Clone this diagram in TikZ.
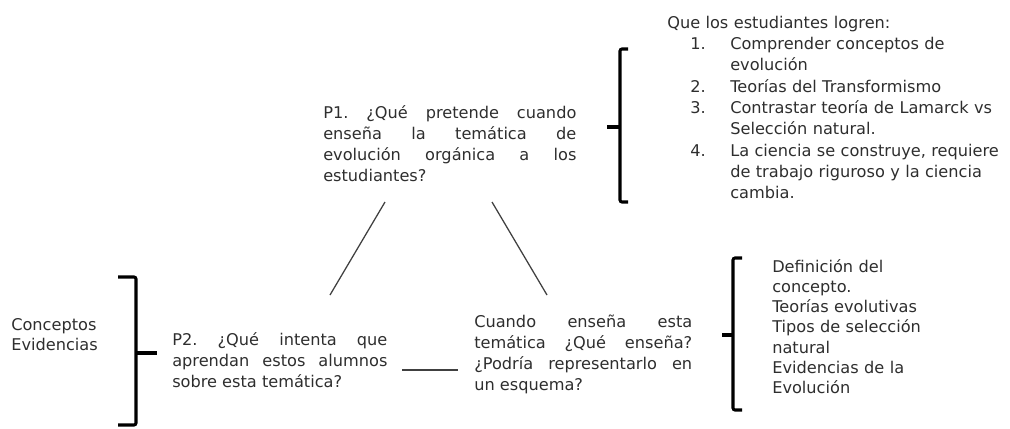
\documentclass[tikz,border=0pt]{standalone}
\usepackage{fontspec}
\setmainfont{DejaVu Sans}
\usepackage{xcolor}
\hyphenpenalty=10000
\exhyphenpenalty=10000
\frenchspacing

\begin{document}
\begin{tikzpicture}[x=0.025cm, y=-0.025cm]
    % Define styles
    \tikzstyle{txt} = [inner sep=0pt, text=black!82, font=\fontsize{11.5}{15}\selectfont\frenchspacing, anchor=base west, align=left]
    \tikzstyle{question} = [txt, align=justify]
    \tikzstyle{bracket} = [line width=2.2pt, black, rounded corners=1.5pt]
    \tikzstyle{link} = [line width=0.9pt, black!75]

    \useasboundingbox (0,0) rectangle (1010,428);

    % Questions
    \node [question, text width=180pt] (p1) at (323,118) {P1. ¿Qué pretende cuando enseña la temática de evolución orgánica a los estudiantes?};
    \node [question, text width=153pt] (p2) at (172,345) {P2. ¿Qué intenta que aprendan estos alumnos sobre esta temática?};
    \node [question, text width=155pt] (p3) at (474,327) {Cuando enseña esta temática ¿Qué enseña? ¿Podría representarlo en un esquema?};

    % Answers
    \node [txt, text width=250pt, font=\fontsize{11.5}{15.2}\selectfont] (goals) at (667,28) {Que los estudiantes logren:\\
        \hspace*{16.4pt}\makebox[28.4pt][l]{1.}Comprender conceptos de\\
        \hspace*{44.8pt}evolución\\
        \hspace*{16.4pt}\makebox[28.4pt][l]{2.}Teorías del Transformismo\\
        \hspace*{16.4pt}\makebox[28.4pt][l]{3.}Contrastar teoría de Lamarck vs\\
        \hspace*{44.8pt}Selección natural.\\
        \hspace*{16.4pt}\makebox[28.4pt][l]{4.}La ciencia se construye, requiere\\
        \hspace*{44.8pt}de trabajo riguroso y la ciencia\\
        \hspace*{44.8pt}cambia.};
    \node [txt, text width=150pt, font=\fontsize{11.5}{14.4}\selectfont] (topics) at (772,272) {Definición del\\concepto.\\Teorías evolutivas\\Tipos de selección\\natural\\Evidencias de la\\Evolución};
    \node [txt, text width=80pt, font=\fontsize{11.5}{14.4}\selectfont] (kinds) at (11,330) {Conceptos\\Evidencias};

    % Line ends
    \coordinate (p1left) at (385,202);
    \coordinate (p2top) at (330,295);
    \coordinate (p1right) at (492,202);
    \coordinate (p3top) at (547,295);
    \coordinate (p2right) at (402,370);
    \coordinate (p3left) at (458,370);

    % Triangle lines
    \draw [link] (p1left) -- (p2top);
    \draw [link] (p1right) -- (p3top);
    \draw [link] (p2right) -- (p3left);

    % Brackets
    \draw [bracket] (628,49) -- (620,49) -- (620,202) -- (628,202);
    \draw [bracket] (607,127) -- (620,127);
    \draw [bracket] (118,277) -- (136,277) -- (136,425) -- (118,425);
    \draw [bracket] (136,353) -- (157,353);
    \draw [bracket] (742,258) -- (733,258) -- (733,410) -- (742,410);
    \draw [bracket] (722,335) -- (733,335);
\end{tikzpicture}
\end{document}
